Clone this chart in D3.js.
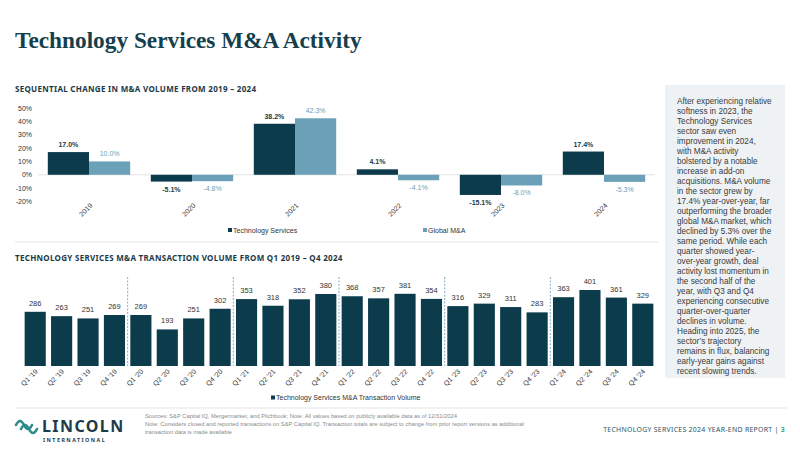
<!DOCTYPE html>
<html>
<head>
<meta charset="utf-8">
<title>Technology Services M&amp;A Activity</title>
<style>
  body { margin: 0; background: #fff; }
  svg { display: block; }
  .sub { font-family: 'Noto Sans', sans-serif; font-weight: bold; font-size: 8px; fill: #1b3a48; letter-spacing: 0.3px; }
  .tick { font-family: 'Liberation Sans', Arial, sans-serif; font-size: 7px; fill: #333; }
  .lbl { font-family: 'Liberation Sans', Arial, sans-serif; font-size: 7px; }
  .note { font-family: 'Liberation Sans', Arial, sans-serif; font-size: 5.75px; fill: #8a8a8a; }
  .panel { font-family: 'Liberation Sans', Arial, sans-serif; font-size: 8.2px; fill: #3a3a3a; }
</style>
</head>
<body>
<script src="https://d3js.org/d3.v7.min.js"></script>
<script>

// ---- data ----
var years = ["2019", "2020", "2021", "2022", "2023", "2024"];
var techChange = [17.0, -5.1, 38.2, 4.1, -15.1, 17.4];
var globalChange = [10.0, -4.8, 42.3, -4.1, -8.0, -5.3];
var pctTicks = [50, 40, 30, 20, 10, 0, -10, -20];

var quarters = ["Q1 '19","Q2 '19","Q3 '19","Q4 '19","Q1 '20","Q2 '20","Q3 '20","Q4 '20",
                "Q1 '21","Q2 '21","Q3 '21","Q4 '21","Q1 '22","Q2 '22","Q3 '22","Q4 '22",
                "Q1 '23","Q2 '23","Q3 '23","Q4 '23","Q1 '24","Q2 '24","Q3 '24","Q4 '24"];
var volumes = [286, 263, 251, 269, 269, 193, 251, 302, 353, 318, 352, 380,
               368, 357, 381, 354, 316, 329, 311, 283, 363, 401, 361, 329];

var panelLines = [
  "After experiencing relative", "softness in 2023, the", "Technology Services",
  "sector saw even", "improvement in 2024,", "with M&A activity",
  "bolstered by a notable", "increase in add-on", "acquisitions. M&A volume",
  "in the sector grew by", "17.4% year-over-year, far", "outperforming the broader",
  "global M&A market, which", "declined by 5.3% over the", "same period. While each",
  "quarter showed year-", "over-year growth, deal", "activity lost momentum in",
  "the second half of the", "year, with Q3 and Q4", "experiencing consecutive",
  "quarter-over-quarter", "declines in volume.", "Heading into 2025, the",
  "sector\u2019s trajectory", "remains in flux, balancing", "early-year gains against",
  "recent slowing trends."
];

var dark = "#0c3b4c", light = "#6aa0b8";

var svg = d3.select("body").append("svg")
    .attr("width", 800)
    .attr("height", 450);

// title
svg.append("text")
    .attr("x", 15).attr("y", 48)
    .style("font-family", "'Liberation Serif', 'DejaVu Serif', serif")
    .style("font-weight", "bold")
    .style("font-size", "23.3px")
    .style("fill", "#153f4d")
    .text("Technology Services M&A Activity");

// right text panel
svg.append("rect")
    .attr("x", 665).attr("y", 85).attr("width", 120).attr("height", 293)
    .attr("fill", "#eef2f5");
svg.append("g").selectAll("text")
    .data(panelLines)
    .enter().append("text")
    .attr("class", "panel")
    .attr("x", 677)
    .attr("y", function(d, i){ return 104 + i * 10; })
    .text(function(d){ return d; });

// ---- top chart: sequential change ----
svg.append("text").attr("class", "sub").attr("x", 15).attr("y", 92)
    .text("SEQUENTIAL CHANGE IN M&A VOLUME FROM 2019 \u2013 2024");

var x0 = d3.scaleBand().domain(years).range([37.5, 655.5]).paddingInner(0.2).paddingOuter(0.1);
var x1 = d3.scaleBand().domain(["tech", "global"]).range([0, x0.bandwidth()]);
var yP = d3.scaleLinear().domain([-20, 50]).range([201.5, 108]);

var topG = svg.append("g");

topG.selectAll(".ytick")
    .data(pctTicks)
    .enter().append("text")
    .attr("class", "tick ytick")
    .attr("x", 32)
    .attr("y", function(d){ return yP(d) + 2.5; })
    .attr("text-anchor", "end")
    .text(function(d){ return d + "%"; });

topG.append("line")
    .attr("x1", 38).attr("x2", 655)
    .attr("y1", yP(0)).attr("y2", yP(0))
    .attr("stroke", "#e2e2e2").attr("stroke-width", 1);

var series = [
  { key: "tech", values: techChange, color: dark, labelColor: "#1b3a48", weight: "bold" },
  { key: "global", values: globalChange, color: light, labelColor: light, weight: "normal" }
];

series.forEach(function(s){
  topG.selectAll(".bar-" + s.key)
      .data(years)
      .enter().append("rect")
      .attr("class", "bar-" + s.key)
      .attr("x", function(d){ return x0(d) + x1(s.key); })
      .attr("y", function(d, i){ return yP(Math.max(0, s.values[i])); })
      .attr("width", x1.bandwidth())
      .attr("height", function(d, i){ return Math.abs(yP(s.values[i]) - yP(0)); })
      .attr("fill", s.color);

  topG.selectAll(".val-" + s.key)
      .data(years)
      .enter().append("text")
      .attr("class", "lbl val-" + s.key)
      .attr("x", function(d){ return x0(d) + x1(s.key) + x1.bandwidth() / 2; })
      .attr("y", function(d, i){
        var v = s.values[i];
        return v >= 0 ? yP(v) - 5 : yP(v) + 10;
      })
      .attr("text-anchor", "middle")
      .style("fill", s.labelColor)
      .style("font-weight", s.weight)
      .text(function(d, i){ return s.values[i].toFixed(1) + "%"; });
});

topG.selectAll(".xl")
    .data(years)
    .enter().append("text")
    .attr("class", "tick xl")
    .attr("text-anchor", "end")
    .attr("transform", function(d){
      return "translate(" + (x0(d) + x0.bandwidth() / 2 + 4) + ",206) rotate(-45)";
    })
    .text(function(d){ return d; });

// legend top
var legTop = [{ name: "Technology Services", color: dark, x: 228 }, { name: "Global M&A", color: light, x: 423 }];
legTop.forEach(function(l){
  svg.append("rect").attr("x", l.x).attr("y", 228).attr("width", 4).attr("height", 4).attr("fill", l.color);
  svg.append("text").attr("class", "tick").attr("x", l.x + 5).attr("y", 232.5).text(l.name);
});

svg.append("line").attr("x1", 15).attr("x2", 658).attr("y1", 242).attr("y2", 242)
    .attr("stroke", "#e6e6e6").attr("stroke-width", 1.2);

// ---- bottom chart: quarterly volume ----
svg.append("text").attr("class", "sub").attr("x", 15).attr("y", 261)
    .text("TECHNOLOGY SERVICES M&A TRANSACTION VOLUME FROM Q1 2019 \u2013 Q4 2024");

var xq = d3.scaleBand().domain(quarters).range([22, 656]).paddingInner(0.2).paddingOuter(0.1);
var yv = d3.scaleLinear().domain([0, 401]).range([366, 290]);

var bot = svg.append("g");

bot.selectAll(".qbar")
    .data(quarters)
    .enter().append("rect")
    .attr("class", "qbar")
    .attr("x", function(d){ return xq(d); })
    .attr("y", function(d, i){ return yv(volumes[i]); })
    .attr("width", xq.bandwidth())
    .attr("height", function(d, i){ return yv(0) - yv(volumes[i]); })
    .attr("fill", dark);

bot.selectAll(".qval")
    .data(quarters)
    .enter().append("text")
    .attr("class", "lbl qval")
    .attr("x", function(d){ return xq(d) + xq.bandwidth() / 2; })
    .attr("y", function(d, i){ return yv(volumes[i]) - 6; })
    .attr("text-anchor", "middle")
    .style("fill", "#333")
    .style("font-size", "7.5px")
    .text(function(d, i){ return volumes[i]; });

// dashed year separators
var yearStarts = quarters.filter(function(d, i){ return i > 0 && i % 4 === 0; });
bot.selectAll(".sep")
    .data(yearStarts)
    .enter().append("line")
    .attr("class", "sep")
    .attr("x1", function(d){ return xq(d) - xq.step() * xq.paddingInner() / 2; })
    .attr("x2", function(d){ return xq(d) - xq.step() * xq.paddingInner() / 2; })
    .attr("y1", 277).attr("y2", 366)
    .attr("stroke", "#7fb0c8").attr("stroke-width", 1)
    .attr("stroke-dasharray", "2,1.5");

bot.selectAll(".ql")
    .data(quarters)
    .enter().append("text")
    .attr("class", "tick ql")
    .attr("text-anchor", "end")
    .attr("transform", function(d){
      return "translate(" + (xq(d) + xq.bandwidth() / 2 + 3) + ",372) rotate(-45)";
    })
    .text(function(d){ return d; });

svg.append("rect").attr("x", 271).attr("y", 395.5).attr("width", 4).attr("height", 4).attr("fill", dark);
svg.append("text").attr("class", "tick").attr("x", 276).attr("y", 400)
    .text("Technology Services M&A Transaction Volume");

// ---- footer ----
svg.append("line").attr("x1", 15).attr("x2", 787).attr("y1", 408).attr("y2", 408)
    .attr("stroke", "#e6e6e6").attr("stroke-width", 1.2);

// logo waves
svg.append("path")
    .attr("d", "M16,425 q4,-8 8,0 q4,8 8,0 M21,429 q4,-8 8,0 q4,8 8,0")
    .attr("fill", "none").attr("stroke", "#2c8c8a").attr("stroke-width", 2.6)
    .attr("stroke-linecap", "round");
svg.append("text")
    .attr("x", 42).attr("y", 431.5)
    .style("font-family", "'Noto Sans', sans-serif").style("font-weight", "bold")
    .style("font-size", "16px").style("letter-spacing", "1.4px").style("fill", "#1c3b4a")
    .text("LINCOLN");
svg.append("text")
    .attr("x", 43).attr("y", 442)
    .style("font-family", "'Noto Sans', sans-serif").style("font-weight", "bold")
    .style("font-size", "5.3px").style("letter-spacing", "1.5px").style("fill", "#1c3b4a")
    .text("INTERNATIONAL");

var notes = [
  "Sources: S&P Capital IQ, Mergermarket, and Pitchbook; Note: All values based on publicly available data as of 12/31/2024",
  "Note: Considers closed and reported transactions on S&P Capital IQ. Transaction totals are subject to change from prior report versions as additional",
  "transaction data is made available"
];
svg.selectAll(".note")
    .data(notes)
    .enter().append("text")
    .attr("class", "note")
    .attr("x", 145)
    .attr("y", function(d, i){ return 418 + i * 8; })
    .text(function(d){ return d; });

var rpt = svg.append("text")
    .attr("x", 785).attr("y", 432).attr("text-anchor", "end")
    .style("font-family", "'Noto Sans', sans-serif").style("font-size", "6.9px")
    .style("letter-spacing", "0.3px").style("fill", "#2b5363");
rpt.append("tspan").text("TECHNOLOGY SERVICES 2024 YEAR-END REPORT  |   ");
rpt.append("tspan").style("fill", "#2ca58d").style("font-weight", "bold").text("3");

</script>
</body>
</html>
